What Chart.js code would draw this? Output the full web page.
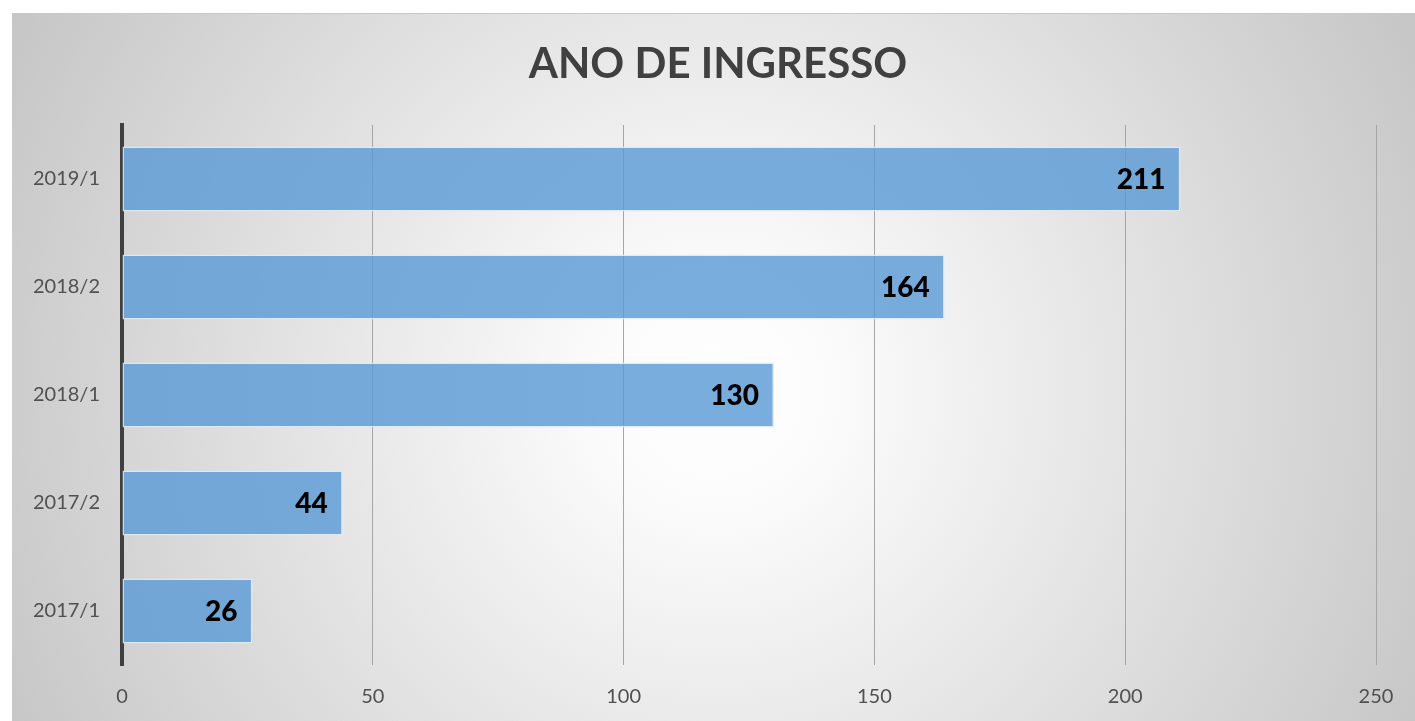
<!DOCTYPE html>
<html>
<head>
<meta charset="utf-8">
<script src="https://cdn.jsdelivr.net/npm/chart.js@4.4.0/dist/chart.umd.min.js"></script>
<style>
  html, body { margin: 0; padding: 0; background: #fff; }
  #wrap { width: 1415px; height: 721px; }
</style>
</head>
<body>
<div id="wrap"><canvas id="BarChart" width="1415" height="721"></canvas></div>
<script>
// data
const periodos = ['2019/1', '2018/2', '2018/1', '2017/2', '2017/1'];
const ingressantes = [211, 164, 130, 44, 26];
const xTicks = [0, 50, 100, 150, 200, 250];
const titulo = 'ANO DE INGRESSO';

// fundo com gradiente radial + titulo
const fundo = {
    id: 'fundo',
    beforeDraw(chart) {
        const c = chart.ctx;
        c.save();
        c.fillStyle = '#ffffff';
        c.fillRect(0, 0, chart.width, chart.height);
        const g = c.createRadialGradient(715, 390, 0, 715, 390, 790);
        g.addColorStop(0, '#ffffff');
        g.addColorStop(0.15, '#fbfbfb');
        g.addColorStop(1, '#c6c6c6');
        c.fillStyle = g;
        c.fillRect(12, 13, chart.width - 12, chart.height - 13);
        c.strokeStyle = '#c8c8c8';
        c.lineWidth = 1;
        c.beginPath();
        c.moveTo(12, 13.5);
        c.lineTo(chart.width, 13.5);
        c.stroke();

        // titulo centrado como no original
        c.font = 'bold 42px Lato';
        c.fillStyle = '#404040';
        c.textAlign = 'center';
        c.textBaseline = 'middle';
        c.fillText(titulo, 718, 64);
        c.restore();
    }
};

// rotulos dos valores
const rotulos = {
    id: 'rotulos',
    afterDatasetsDraw(chart) {
        const c = chart.ctx;
        const meta = chart.getDatasetMeta(0);
        c.save();
        c.font = '900 28px Lato';
        c.fillStyle = '#000000';
        c.textAlign = 'right';
        c.textBaseline = 'middle';
        meta.data.forEach((bar, i) => {
            c.fillText(ingressantes[i], bar.x - 15, bar.y + 1);
        });
        c.restore();
    }
};

const ctx = document.getElementById('BarChart').getContext('2d');
const myChart = new Chart(ctx, {
    type: 'bar',
    data: {
        labels: periodos,
        datasets: [{
            data: ingressantes,
            backgroundColor: 'rgba(91,155,213,0.82)',
            borderColor: 'rgba(220,235,248,0.9)',
            borderWidth: 1.5,
            borderSkipped: false,
            barPercentage: 0.6,
            categoryPercentage: 1
        }]
    },
    options: {
        indexAxis: 'y',
        responsive: false,
        animation: false,
        layout: { padding: { left: 0, right: 39, top: 125, bottom: 0 } },
        plugins: {
            legend: { display: false },
            tooltip: { enabled: false },
            title: { display: false }
        },
        scales: {
            x: {
                min: 0,
                max: 250,
                afterBuildTicks(scale) {
                    scale.ticks = xTicks.map(v => ({ value: v }));
                },
                afterFit(scale) { scale.height = 56; },
                grid: { color: '#a6a6a6', lineWidth: 1, drawTicks: false },
                border: { display: false },
                ticks: {
                    color: '#505050',
                    font: { family: 'Lato', size: 20 },
                    padding: 20
                }
            },
            y: {
                afterFit(scale) { scale.width = 122; },
                grid: { display: false, drawTicks: false },
                border: { display: true, color: '#404040', width: 4 },
                ticks: {
                    color: '#505050',
                    font: { family: 'Lato', size: 20 },
                    padding: 22
                }
            }
        }
    },
    plugins: [fundo, rotulos]
});
</script>
</body>
</html>
